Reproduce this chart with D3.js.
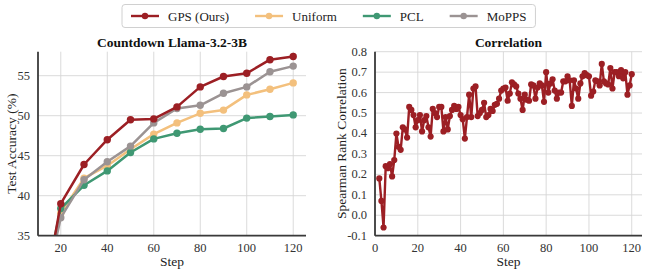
<!DOCTYPE html>
<html>
<head>
<meta charset="utf-8">
<script src="https://cdn.jsdelivr.net/npm/d3@7"></script>
<style>
    body { margin: 0; background: #fff; }
    svg { display: block; font-family: "Liberation Serif", "DejaVu Serif", serif; }
    .grid line { stroke: #d6d6d6; stroke-width: 0.9; }
    .tick-label { font-size: 12.5px; fill: #333; }
    .axis-title { font-size: 13.5px; fill: #222; }
    .chart-title { font-size: 13.5px; font-weight: bold; fill: #111; }
    .legend-text { font-size: 13px; fill: #222; }
</style>
</head>
<body>
<svg id="chart" width="648" height="273"></svg>
<script>
// ---- data ----
const methods = ['GPS (Ours)', 'Uniform', 'PCL', 'MoPPS'];
const colors = ['#9c1f24', '#f3c07d', '#3f9873', '#9b9393'];
const steps = [10, 20, 30, 40, 50, 60, 70, 80, 90, 100, 110, 120];
const gpsAcc = [23.0, 39.0, 43.9, 47.0, 49.5, 49.6, 51.1, 53.6, 54.9, 55.3, 57.0, 57.4];
const uniformAcc = [24.0, 37.8, 42.2, 43.75, 45.8, 47.7, 49.1, 50.3, 50.7, 52.6, 53.3, 54.1];
const pclAcc = [24.8, 38.4, 41.3, 43.1, 45.4, 47.1, 47.8, 48.3, 48.4, 49.7, 49.9, 50.1];
const moppsAcc = [24.3, 37.25, 42.0, 44.25, 46.2, 49.1, 50.9, 51.3, 52.8, 53.6, 55.5, 56.2];
const accTicksX = [20, 40, 60, 80, 100, 120];
const accTicksY = [35, 40, 45, 50, 55];

// spearman correlation, steps 2..120
const corrSteps = d3.range(2, 121);
const corrValues = [
    0.18, 0.07, -0.06, 0.24, 0.23, 0.25, 0.19, 0.27, 0.40, 0.335,
    0.32, 0.43, 0.42, 0.38, 0.53, 0.515, 0.49, 0.43, 0.465, 0.49,
    0.41, 0.465, 0.485, 0.43, 0.385, 0.52, 0.50, 0.48, 0.53, 0.53,
    0.41, 0.48, 0.42, 0.485, 0.515, 0.535, 0.52, 0.53, 0.49, 0.47,
    0.375, 0.48, 0.59, 0.48, 0.62, 0.63, 0.485, 0.50, 0.515, 0.55,
    0.48, 0.49, 0.52, 0.51, 0.54, 0.545, 0.57, 0.61, 0.62, 0.625,
    0.56, 0.595, 0.65, 0.64, 0.63, 0.595, 0.57, 0.515, 0.59, 0.565,
    0.56, 0.64, 0.635, 0.57, 0.625, 0.645, 0.635, 0.555, 0.70, 0.60,
    0.645, 0.665, 0.61, 0.57, 0.60, 0.60, 0.655, 0.655, 0.68, 0.66,
    0.535, 0.66, 0.62, 0.57, 0.645, 0.68, 0.695, 0.685, 0.68, 0.585,
    0.605, 0.66, 0.655, 0.635, 0.74, 0.655, 0.645, 0.64, 0.72, 0.62,
    0.70, 0.70, 0.68, 0.71, 0.67, 0.70, 0.59, 0.635, 0.69
];
const corrTicksX = [0, 20, 40, 60, 80, 100, 120];
const corrTicksY = [-0.1, 0.0, 0.1, 0.2, 0.3, 0.4, 0.5, 0.6, 0.7, 0.8];

const svg = d3.select('#chart');
svg.append('rect').attr('width', 648).attr('height', 273).attr('fill', '#fff');

function drawPanel(cfg) {
    const x = d3.scaleLinear().domain(cfg.xDomain).range([cfg.left, cfg.right]);
    const y = d3.scaleLinear().domain(cfg.yDomain).range([cfg.bottom, cfg.top]);
    const g = svg.append('g');

    // gridlines
    const grid = g.append('g').attr('class', 'grid');
    grid.selectAll('line.gx')
        .data(cfg.xTicks)
        .join('line')
        .attr('class', 'gx')
        .attr('x1', d => x(d)).attr('x2', d => x(d))
        .attr('y1', cfg.top).attr('y2', cfg.bottom);
    grid.selectAll('line.gy')
        .data(cfg.yTicks)
        .join('line')
        .attr('class', 'gy')
        .attr('x1', cfg.left).attr('x2', cfg.right)
        .attr('y1', d => y(d)).attr('y2', d => y(d));

    // tick labels
    g.selectAll('text.xt')
        .data(cfg.xTicks)
        .join('text')
        .attr('class', 'tick-label xt')
        .attr('x', d => x(d))
        .attr('y', cfg.bottom + 16)
        .attr('text-anchor', 'middle')
        .text(d => d);
    g.selectAll('text.yt')
        .data(cfg.yTicks)
        .join('text')
        .attr('class', 'tick-label yt')
        .attr('x', cfg.left - 8)
        .attr('y', d => y(d) + 4)
        .attr('text-anchor', 'end')
        .text(cfg.yFormat);

    // titles
    g.append('text')
        .attr('class', 'chart-title')
        .attr('x', (cfg.left + cfg.right) / 2)
        .attr('y', cfg.top - 5)
        .attr('text-anchor', 'middle')
        .text(cfg.title);
    g.append('text')
        .attr('class', 'axis-title')
        .attr('x', (cfg.left + cfg.right) / 2)
        .attr('y', cfg.bottom + 30)
        .attr('text-anchor', 'middle')
        .text('Step');
    g.append('text')
        .attr('class', 'axis-title')
        .attr('transform', `translate(${cfg.yTitleX},${(cfg.top + cfg.bottom) / 2}) rotate(-90)`)
        .attr('text-anchor', 'middle')
        .text(cfg.yTitle);

    // clip
    const clipId = 'clip-' + cfg.id;
    svg.append('clipPath').attr('id', clipId)
        .append('rect')
        .attr('x', cfg.left - 6).attr('y', cfg.top - 6)
        .attr('width', cfg.right - cfg.left + 12)
        .attr('height', cfg.bottom - cfg.top + 6);

    const plot = g.append('g').attr('clip-path', `url(#${clipId})`);
    const line = d3.line().x(d => x(d[0])).y(d => y(d[1]));
    for (let s of cfg.series) {
        const pts = s.xs.map((v, i) => [v, s.ys[i]]);
        const sg = plot.append('g');
        sg.append('path')
            .datum(pts)
            .attr('d', line)
            .attr('fill', 'none')
            .attr('stroke', s.color)
            .attr('stroke-width', cfg.lineWidth)
            .attr('stroke-linejoin', 'round');
        sg.selectAll('circle')
            .data(pts)
            .join('circle')
            .attr('cx', d => x(d[0]))
            .attr('cy', d => y(d[1]))
            .attr('r', cfg.markerR)
            .attr('fill', s.color);
    }

    // spines (left + bottom)
    g.append('line')
        .attr('x1', cfg.left).attr('x2', cfg.left)
        .attr('y1', cfg.top).attr('y2', cfg.bottom)
        .attr('stroke', '#3a3a3a').attr('stroke-width', 1.8);
    g.append('line')
        .attr('x1', cfg.left).attr('x2', cfg.right)
        .attr('y1', cfg.bottom).attr('y2', cfg.bottom)
        .attr('stroke', '#3a3a3a').attr('stroke-width', 1.8);
}

const accSeries = [
    {ys: uniformAcc, color: colors[1]},
    {ys: pclAcc, color: colors[2]},
    {ys: moppsAcc, color: colors[3]},
    {ys: gpsAcc, color: colors[0]}
].map(s => ({...s, xs: steps}));

drawPanel({
    id: 'acc',
    left: 38, right: 306, top: 51.7, bottom: 235.7,
    xDomain: [10.2, 125.5], yDomain: [35, 58],
    xTicks: accTicksX, yTicks: accTicksY,
    yFormat: d => d,
    title: 'Countdown Llama-3.2-3B',
    yTitle: 'Test Accuracy (%)',
    yTitleX: 16,
    series: accSeries,
    lineWidth: 2.5, markerR: 3.7
});

drawPanel({
    id: 'corr',
    left: 375, right: 642, top: 51.7, bottom: 235.7,
    xDomain: [0, 124.8], yDomain: [-0.1, 0.8],
    xTicks: corrTicksX, yTicks: corrTicksY,
    yFormat: d => d.toFixed(1),
    title: 'Correlation',
    yTitle: 'Spearman Rank Correlation',
    yTitleX: 346,
    series: [{xs: corrSteps, ys: corrValues, color: colors[0]}],
    lineWidth: 2.4, markerR: 3.1
});

// legend
const legend = svg.append('g');
const legendBox = legend.append('rect');
let lx = 131;
const handleLen = 28;
methods.forEach((name, i) => {
    legend.append('line')
        .attr('x1', lx).attr('x2', lx + handleLen)
        .attr('y1', 16).attr('y2', 16)
        .attr('stroke', colors[i]).attr('stroke-width', 2.4);
    legend.append('circle')
        .attr('cx', lx + handleLen / 2).attr('cy', 16)
        .attr('r', 3.2).attr('fill', colors[i]);
    const t = legend.append('text')
        .attr('class', 'legend-text')
        .attr('x', lx + handleLen + 9)
        .attr('y', 20.5)
        .text(name);
    lx += handleLen + 9 + t.node().getComputedTextLength() + 26;
});
legendBox
    .attr('x', 122).attr('y', 4.5)
    .attr('width', lx - 26 + 9 - 122).attr('height', 23)
    .attr('rx', 3)
    .attr('fill', '#fff')
    .attr('stroke', '#d0d0d0')
    .attr('stroke-width', 1);
</script>
</body>
</html>
